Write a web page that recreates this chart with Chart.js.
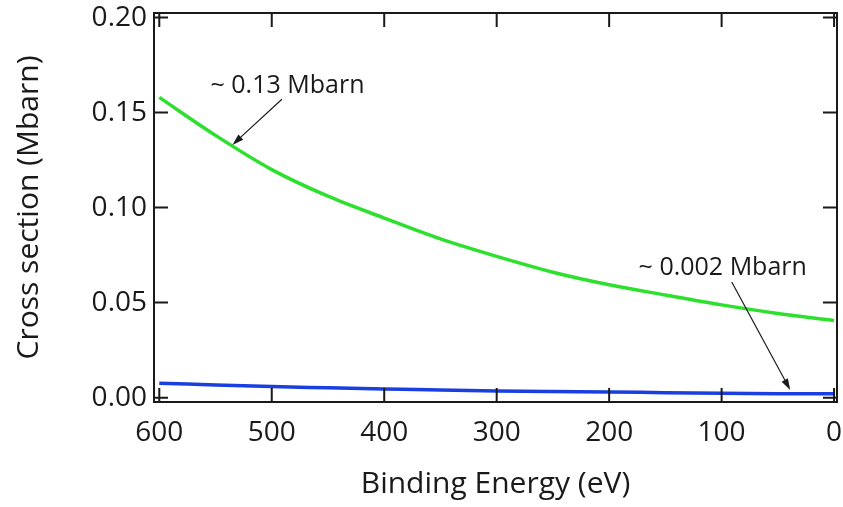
<!DOCTYPE html>
<html lang="en">
<head>
    <meta charset="UTF-8">
    <title>Cross section vs Binding Energy</title>
    <script src="https://cdn.jsdelivr.net/npm/chart.js"></script>
    <style>
        body {
            margin: 0;
            background-color: white;
        }
        .chart-container {
            position: relative;
            width: 843px;
            height: 507px;
        }
    </style>
</head>
<body>
    <div class="chart-container">
        <canvas id="xsChart"></canvas>
    </div>

    <script>
        // values
        const energies = [600, 550, 500, 450, 400, 350, 300, 250, 200, 150, 100, 50, 0];
        const greenXs = [0.158, 0.138, 0.120, 0.106, 0.0945, 0.0835, 0.0743, 0.066, 0.0594, 0.054, 0.0488, 0.0443, 0.0406];
        const blueXs = [0.0076, 0.0067, 0.0058, 0.0052, 0.0046, 0.0040, 0.0035, 0.0032, 0.0030, 0.0026, 0.0023, 0.0021, 0.0020];
        const xTicks = [600, 500, 400, 300, 200, 100, 0];
        const yTicks = [0.00, 0.05, 0.10, 0.15, 0.20];

        const FONT = "'Open Sans', 'DejaVu Sans', sans-serif";
        const INK = '#1a1a1a';

        // annotations in data coordinates
        const notes = [
            { text: '~ 0.13 Mbarn', x: 486, y: 0.164, from: [491, 0.157], to: [535, 0.133] },
            { text: '~ 0.002 Mbarn', x: 99, y: 0.0683, from: [91, 0.0608], to: [39, 0.0040] }
        ];

        const framePlugin = {
            id: 'frame',
            afterDatasetsDraw(chart) {
                const { ctx, chartArea: a, scales } = chart;
                const tl = 14;
                ctx.save();
                ctx.strokeStyle = INK;
                ctx.lineWidth = 2;
                ctx.strokeRect(a.left, a.top, a.right - a.left, a.bottom - a.top);
                ctx.beginPath();
                xTicks.forEach(v => {
                    const px = scales.x.getPixelForValue(v);
                    ctx.moveTo(px, a.bottom); ctx.lineTo(px, a.bottom - tl);
                    ctx.moveTo(px, a.top); ctx.lineTo(px, a.top + tl);
                });
                yTicks.forEach(v => {
                    const py = scales.y.getPixelForValue(v);
                    ctx.moveTo(a.left, py); ctx.lineTo(a.left + tl, py);
                    ctx.moveTo(a.right, py); ctx.lineTo(a.right - tl, py);
                });
                ctx.stroke();

                // annotations
                ctx.fillStyle = INK;
                ctx.font = '25px ' + FONT;
                ctx.textAlign = 'center';
                ctx.textBaseline = 'middle';
                ctx.lineWidth = 1.2;
                notes.forEach(n => {
                    ctx.fillText(n.text, scales.x.getPixelForValue(n.x), scales.y.getPixelForValue(n.y));
                    const x0 = scales.x.getPixelForValue(n.from[0]), y0 = scales.y.getPixelForValue(n.from[1]);
                    const x1 = scales.x.getPixelForValue(n.to[0]), y1 = scales.y.getPixelForValue(n.to[1]);
                    const ang = Math.atan2(y1 - y0, x1 - x0);
                    const hl = 12, hw = 0.3;
                    ctx.beginPath();
                    ctx.moveTo(x0, y0);
                    ctx.lineTo(x1 - hl * 0.8 * Math.cos(ang), y1 - hl * 0.8 * Math.sin(ang));
                    ctx.stroke();
                    ctx.beginPath();
                    ctx.moveTo(x1, y1);
                    ctx.lineTo(x1 - hl * Math.cos(ang - hw), y1 - hl * Math.sin(ang - hw));
                    ctx.lineTo(x1 - hl * Math.cos(ang + hw), y1 - hl * Math.sin(ang + hw));
                    ctx.closePath();
                    ctx.fill();
                });
                ctx.restore();
            }
        };

        const ctx = document.getElementById('xsChart').getContext('2d');
        new Chart(ctx, {
            type: 'line',
            data: {
                datasets: [{
                    data: energies.map((e, i) => ({ x: e, y: greenXs[i] })),
                    borderColor: '#2ee02e',
                    borderWidth: 3.5,
                    pointRadius: 0,
                    cubicInterpolationMode: 'monotone'
                }, {
                    data: energies.map((e, i) => ({ x: e, y: blueXs[i] })),
                    borderColor: '#1a3fe0',
                    borderWidth: 3.5,
                    pointRadius: 0,
                    cubicInterpolationMode: 'monotone'
                }]
            },
            options: {
                responsive: true,
                maintainAspectRatio: false,
                animation: false,
                layout: { padding: { top: 13, right: 6, left: 0, bottom: 0 } },
                plugins: {
                    legend: { display: false },
                    tooltip: { enabled: false }
                },
                scales: {
                    x: {
                        type: 'linear',
                        reverse: true,
                        min: -2.6,
                        max: 604.7,
                        afterBuildTicks: s => { s.ticks = xTicks.map(v => ({ value: v })); },
                        afterFit: s => { s.height = 105; s.paddingLeft = 0; s.paddingRight = 0; },
                        grid: { display: false, drawTicks: false },
                        border: { display: false },
                        ticks: {
                            color: INK,
                            padding: 14,
                            maxRotation: 0,
                            font: { family: FONT, size: 28 },
                            callback: v => String(v)
                        },
                        title: {
                            display: true,
                            text: 'Binding Energy (eV)',
                            color: INK,
                            font: { family: FONT, size: 30 },
                            padding: { top: 0, bottom: 5 }
                        }
                    },
                    y: {
                        type: 'linear',
                        min: -0.0023,
                        max: 0.2024,
                        afterBuildTicks: s => { s.ticks = yTicks.map(v => ({ value: v })); },
                        afterFit: s => { s.width = 154; s.paddingTop = 0; s.paddingBottom = 0; },
                        grid: { display: false, drawTicks: false },
                        border: { display: false },
                        ticks: {
                            color: INK,
                            padding: 7,
                            font: { family: FONT, size: 28 },
                            callback: v => v.toFixed(2)
                        },
                        title: {
                            display: true,
                            text: 'Cross section (Mbarn)',
                            color: INK,
                            font: { family: FONT, size: 30 },
                            padding: { top: 11, bottom: 0 }
                        }
                    }
                }
            },
            plugins: [framePlugin]
        });
    </script>
</body>
</html>
